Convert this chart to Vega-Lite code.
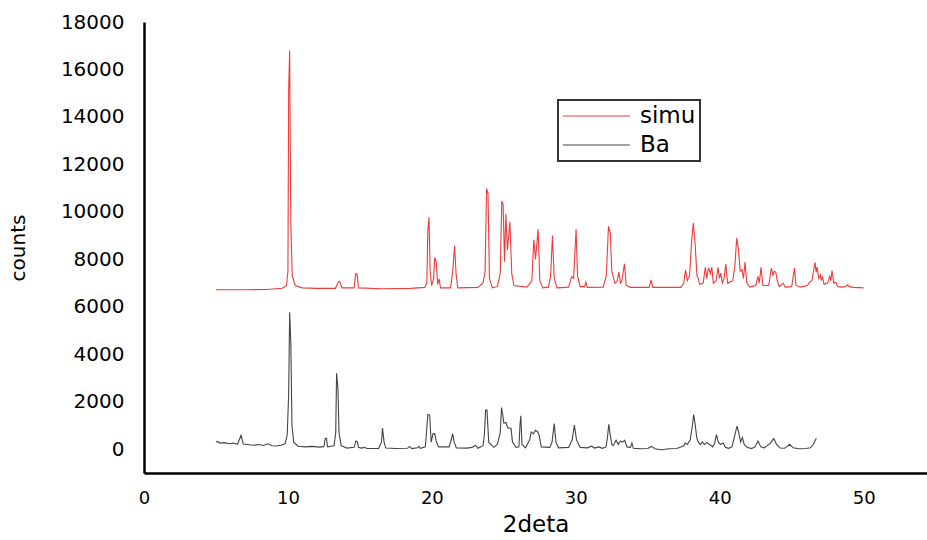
{
"$schema":"https://vega.github.io/schema/vega-lite/v6.json",
"width":783,"height":451,
"autosize":{"type":"none"},
"padding":{"left":144,"top":22,"right":0,"bottom":67},
"background":"white",
"config":{"view":{"stroke":null},"font":"DejaVu Sans"},
"data":{"values":[
{"s":"simu","x":5.0,"y":6720},{"s":"simu","x":7.0,"y":6720},{"s":"simu","x":8.5,"y":6730},{"s":"simu","x":9.6,"y":6780},{"s":"simu","x":9.9,"y":6900},{"s":"simu","x":10.0,"y":7500},{"s":"simu","x":10.05,"y":15100},{"s":"simu","x":10.12,"y":16800},{"s":"simu","x":10.2,"y":9500},{"s":"simu","x":10.3,"y":7300},{"s":"simu","x":10.5,"y":6900},{"s":"simu","x":11.0,"y":6800},{"s":"simu","x":12.0,"y":6780},{"s":"simu","x":13.3,"y":6780},{"s":"simu","x":13.5,"y":7050},{"s":"simu","x":13.6,"y":7070},{"s":"simu","x":13.75,"y":6800},{"s":"simu","x":14.6,"y":6800},{"s":"simu","x":14.7,"y":7390},{"s":"simu","x":14.8,"y":7380},{"s":"simu","x":14.9,"y":6800},{"s":"simu","x":16.5,"y":6760},{"s":"simu","x":18.5,"y":6780},{"s":"simu","x":19.5,"y":6820},{"s":"simu","x":19.65,"y":7000},{"s":"simu","x":19.72,"y":9180},{"s":"simu","x":19.8,"y":9770},{"s":"simu","x":19.88,"y":7500},{"s":"simu","x":19.98,"y":6900},{"s":"simu","x":20.12,"y":7200},{"s":"simu","x":20.2,"y":8080},{"s":"simu","x":20.3,"y":7900},{"s":"simu","x":20.4,"y":6950},{"s":"simu","x":20.5,"y":7180},{"s":"simu","x":20.6,"y":6800},{"s":"simu","x":21.3,"y":6800},{"s":"simu","x":21.45,"y":7500},{"s":"simu","x":21.58,"y":8580},{"s":"simu","x":21.68,"y":7400},{"s":"simu","x":21.8,"y":6800},{"s":"simu","x":23.2,"y":6820},{"s":"simu","x":23.55,"y":7000},{"s":"simu","x":23.7,"y":7500},{"s":"simu","x":23.8,"y":10985},{"s":"simu","x":23.9,"y":10770},{"s":"simu","x":24.0,"y":7200},{"s":"simu","x":24.2,"y":6800},{"s":"simu","x":24.55,"y":6850},{"s":"simu","x":24.75,"y":7400},{"s":"simu","x":24.86,"y":10465},{"s":"simu","x":24.95,"y":10310},{"s":"simu","x":25.05,"y":7900},{"s":"simu","x":25.14,"y":9915},{"s":"simu","x":25.25,"y":8400},{"s":"simu","x":25.42,"y":9580},{"s":"simu","x":25.55,"y":7400},{"s":"simu","x":25.7,"y":6900},{"s":"simu","x":26.6,"y":6830},{"s":"simu","x":26.95,"y":7100},{"s":"simu","x":27.08,"y":8830},{"s":"simu","x":27.2,"y":8000},{"s":"simu","x":27.38,"y":9280},{"s":"simu","x":27.5,"y":7100},{"s":"simu","x":27.7,"y":6800},{"s":"simu","x":28.1,"y":6830},{"s":"simu","x":28.25,"y":7300},{"s":"simu","x":28.38,"y":9000},{"s":"simu","x":28.5,"y":7200},{"s":"simu","x":28.7,"y":6800},{"s":"simu","x":29.5,"y":6830},{"s":"simu","x":29.72,"y":7280},{"s":"simu","x":29.85,"y":7200},{"s":"simu","x":30.02,"y":9280},{"s":"simu","x":30.12,"y":7300},{"s":"simu","x":30.3,"y":6850},{"s":"simu","x":30.6,"y":6850},{"s":"simu","x":30.7,"y":7040},{"s":"simu","x":30.8,"y":6820},{"s":"simu","x":31.9,"y":6830},{"s":"simu","x":32.12,"y":7300},{"s":"simu","x":32.27,"y":9395},{"s":"simu","x":32.4,"y":9085},{"s":"simu","x":32.5,"y":7500},{"s":"simu","x":32.6,"y":7280},{"s":"simu","x":32.7,"y":7000},{"s":"simu","x":32.85,"y":7050},{"s":"simu","x":33.0,"y":7465},{"s":"simu","x":33.1,"y":7000},{"s":"simu","x":33.2,"y":7100},{"s":"simu","x":33.38,"y":7815},{"s":"simu","x":33.5,"y":6900},{"s":"simu","x":33.8,"y":6820},{"s":"simu","x":35.1,"y":6820},{"s":"simu","x":35.23,"y":7140},{"s":"simu","x":35.35,"y":6820},{"s":"simu","x":37.3,"y":6820},{"s":"simu","x":37.5,"y":7000},{"s":"simu","x":37.62,"y":7560},{"s":"simu","x":37.75,"y":7100},{"s":"simu","x":37.9,"y":7300},{"s":"simu","x":38.05,"y":8790},{"s":"simu","x":38.17,"y":9535},{"s":"simu","x":38.3,"y":8550},{"s":"simu","x":38.42,"y":7300},{"s":"simu","x":38.5,"y":7230},{"s":"simu","x":38.6,"y":6950},{"s":"simu","x":38.85,"y":7000},{"s":"simu","x":39.0,"y":7670},{"s":"simu","x":39.1,"y":7200},{"s":"simu","x":39.22,"y":7650},{"s":"simu","x":39.35,"y":7400},{"s":"simu","x":39.45,"y":7670},{"s":"simu","x":39.55,"y":7000},{"s":"simu","x":39.75,"y":7100},{"s":"simu","x":39.88,"y":7670},{"s":"simu","x":39.98,"y":7200},{"s":"simu","x":40.07,"y":7420},{"s":"simu","x":40.18,"y":7000},{"s":"simu","x":40.3,"y":7200},{"s":"simu","x":40.42,"y":7800},{"s":"simu","x":40.55,"y":7000},{"s":"simu","x":40.9,"y":7100},{"s":"simu","x":41.05,"y":7700},{"s":"simu","x":41.18,"y":8900},{"s":"simu","x":41.3,"y":8410},{"s":"simu","x":41.42,"y":7500},{"s":"simu","x":41.55,"y":7560},{"s":"simu","x":41.65,"y":7200},{"s":"simu","x":41.76,"y":7890},{"s":"simu","x":41.88,"y":7000},{"s":"simu","x":42.1,"y":6830},{"s":"simu","x":42.5,"y":6900},{"s":"simu","x":42.66,"y":7280},{"s":"simu","x":42.75,"y":7000},{"s":"simu","x":42.87,"y":7670},{"s":"simu","x":43.0,"y":6900},{"s":"simu","x":43.4,"y":6900},{"s":"simu","x":43.59,"y":7635},{"s":"simu","x":43.7,"y":7300},{"s":"simu","x":43.78,"y":7500},{"s":"simu","x":43.89,"y":7465},{"s":"simu","x":44.0,"y":7100},{"s":"simu","x":44.15,"y":6850},{"s":"simu","x":44.4,"y":7000},{"s":"simu","x":44.55,"y":6830},{"s":"simu","x":45.0,"y":6850},{"s":"simu","x":45.19,"y":7635},{"s":"simu","x":45.3,"y":6900},{"s":"simu","x":45.6,"y":6830},{"s":"simu","x":46.1,"y":6900},{"s":"simu","x":46.25,"y":7050},{"s":"simu","x":46.4,"y":7100},{"s":"simu","x":46.62,"y":7870},{"s":"simu","x":46.7,"y":7450},{"s":"simu","x":46.76,"y":7670},{"s":"simu","x":46.88,"y":7200},{"s":"simu","x":46.99,"y":7350},{"s":"simu","x":47.06,"y":7100},{"s":"simu","x":47.13,"y":7280},{"s":"simu","x":47.25,"y":6950},{"s":"simu","x":47.5,"y":7000},{"s":"simu","x":47.64,"y":7280},{"s":"simu","x":47.72,"y":7100},{"s":"simu","x":47.8,"y":7530},{"s":"simu","x":47.92,"y":7000},{"s":"simu","x":48.06,"y":7050},{"s":"simu","x":48.2,"y":6850},{"s":"simu","x":48.5,"y":6830},{"s":"simu","x":48.75,"y":6860},{"s":"simu","x":48.9,"y":6930},{"s":"simu","x":49.0,"y":6850},{"s":"simu","x":49.3,"y":6820},{"s":"simu","x":50.0,"y":6800},
{"s":"Ba","x":5.0,"y":310},{"s":"Ba","x":5.1,"y":330},{"s":"Ba","x":5.3,"y":260},{"s":"Ba","x":5.6,"y":280},{"s":"Ba","x":5.9,"y":230},{"s":"Ba","x":6.2,"y":260},{"s":"Ba","x":6.5,"y":210},{"s":"Ba","x":6.74,"y":590},{"s":"Ba","x":6.9,"y":220},{"s":"Ba","x":7.3,"y":190},{"s":"Ba","x":7.6,"y":170},{"s":"Ba","x":8.0,"y":200},{"s":"Ba","x":8.3,"y":160},{"s":"Ba","x":8.6,"y":230},{"s":"Ba","x":8.9,"y":150},{"s":"Ba","x":9.2,"y":140},{"s":"Ba","x":9.5,"y":170},{"s":"Ba","x":9.8,"y":230},{"s":"Ba","x":9.95,"y":600},{"s":"Ba","x":10.05,"y":2310},{"s":"Ba","x":10.12,"y":5775},{"s":"Ba","x":10.2,"y":4510},{"s":"Ba","x":10.28,"y":1000},{"s":"Ba","x":10.4,"y":300},{"s":"Ba","x":10.7,"y":130},{"s":"Ba","x":11.2,"y":100},{"s":"Ba","x":11.7,"y":120},{"s":"Ba","x":12.2,"y":90},{"s":"Ba","x":12.5,"y":110},{"s":"Ba","x":12.59,"y":465},{"s":"Ba","x":12.68,"y":460},{"s":"Ba","x":12.75,"y":100},{"s":"Ba","x":13.2,"y":150},{"s":"Ba","x":13.32,"y":700},{"s":"Ba","x":13.38,"y":3200},{"s":"Ba","x":13.47,"y":2600},{"s":"Ba","x":13.55,"y":700},{"s":"Ba","x":13.7,"y":150},{"s":"Ba","x":14.1,"y":50},{"s":"Ba","x":14.6,"y":80},{"s":"Ba","x":14.72,"y":350},{"s":"Ba","x":14.82,"y":320},{"s":"Ba","x":14.9,"y":80},{"s":"Ba","x":15.1,"y":50},{"s":"Ba","x":15.3,"y":80},{"s":"Ba","x":15.5,"y":30},{"s":"Ba","x":16.3,"y":30},{"s":"Ba","x":16.5,"y":300},{"s":"Ba","x":16.57,"y":890},{"s":"Ba","x":16.68,"y":300},{"s":"Ba","x":16.8,"y":50},{"s":"Ba","x":17.5,"y":30},{"s":"Ba","x":18.3,"y":40},{"s":"Ba","x":18.45,"y":120},{"s":"Ba","x":18.6,"y":30},{"s":"Ba","x":19.0,"y":60},{"s":"Ba","x":19.1,"y":120},{"s":"Ba","x":19.2,"y":40},{"s":"Ba","x":19.55,"y":100},{"s":"Ba","x":19.72,"y":1465},{"s":"Ba","x":19.85,"y":1440},{"s":"Ba","x":19.95,"y":300},{"s":"Ba","x":20.08,"y":650},{"s":"Ba","x":20.2,"y":660},{"s":"Ba","x":20.3,"y":350},{"s":"Ba","x":20.45,"y":100},{"s":"Ba","x":21.2,"y":100},{"s":"Ba","x":21.35,"y":400},{"s":"Ba","x":21.44,"y":660},{"s":"Ba","x":21.55,"y":300},{"s":"Ba","x":21.7,"y":60},{"s":"Ba","x":22.4,"y":50},{"s":"Ba","x":22.8,"y":80},{"s":"Ba","x":23.03,"y":170},{"s":"Ba","x":23.2,"y":40},{"s":"Ba","x":23.55,"y":150},{"s":"Ba","x":23.65,"y":600},{"s":"Ba","x":23.73,"y":1650},{"s":"Ba","x":23.83,"y":1650},{"s":"Ba","x":23.95,"y":300},{"s":"Ba","x":24.3,"y":80},{"s":"Ba","x":24.55,"y":200},{"s":"Ba","x":24.75,"y":700},{"s":"Ba","x":24.84,"y":1760},{"s":"Ba","x":24.92,"y":1460},{"s":"Ba","x":25.0,"y":1100},{"s":"Ba","x":25.14,"y":1130},{"s":"Ba","x":25.28,"y":900},{"s":"Ba","x":25.42,"y":885},{"s":"Ba","x":25.5,"y":880},{"s":"Ba","x":25.6,"y":300},{"s":"Ba","x":25.85,"y":80},{"s":"Ba","x":26.05,"y":100},{"s":"Ba","x":26.12,"y":1000},{"s":"Ba","x":26.18,"y":1410},{"s":"Ba","x":26.26,"y":200},{"s":"Ba","x":26.5,"y":60},{"s":"Ba","x":26.8,"y":400},{"s":"Ba","x":26.9,"y":730},{"s":"Ba","x":27.05,"y":650},{"s":"Ba","x":27.2,"y":800},{"s":"Ba","x":27.35,"y":730},{"s":"Ba","x":27.45,"y":600},{"s":"Ba","x":27.6,"y":100},{"s":"Ba","x":28.2,"y":80},{"s":"Ba","x":28.35,"y":300},{"s":"Ba","x":28.5,"y":1085},{"s":"Ba","x":28.62,"y":300},{"s":"Ba","x":28.8,"y":60},{"s":"Ba","x":29.5,"y":80},{"s":"Ba","x":29.75,"y":400},{"s":"Ba","x":29.9,"y":1015},{"s":"Ba","x":30.05,"y":400},{"s":"Ba","x":30.3,"y":80},{"s":"Ba","x":30.8,"y":60},{"s":"Ba","x":31.1,"y":130},{"s":"Ba","x":31.3,"y":50},{"s":"Ba","x":31.6,"y":100},{"s":"Ba","x":31.85,"y":40},{"s":"Ba","x":32.1,"y":100},{"s":"Ba","x":32.2,"y":500},{"s":"Ba","x":32.29,"y":1055},{"s":"Ba","x":32.38,"y":660},{"s":"Ba","x":32.5,"y":200},{"s":"Ba","x":32.6,"y":150},{"s":"Ba","x":32.8,"y":380},{"s":"Ba","x":32.95,"y":200},{"s":"Ba","x":33.1,"y":350},{"s":"Ba","x":33.25,"y":300},{"s":"Ba","x":33.4,"y":380},{"s":"Ba","x":33.55,"y":100},{"s":"Ba","x":33.8,"y":80},{"s":"Ba","x":33.9,"y":265},{"s":"Ba","x":34.0,"y":40},{"s":"Ba","x":34.5,"y":20},{"s":"Ba","x":35.0,"y":30},{"s":"Ba","x":35.25,"y":120},{"s":"Ba","x":35.5,"y":20},{"s":"Ba","x":35.95,"y":-20},{"s":"Ba","x":36.5,"y":20},{"s":"Ba","x":37.0,"y":30},{"s":"Ba","x":37.3,"y":100},{"s":"Ba","x":37.5,"y":150},{"s":"Ba","x":37.6,"y":265},{"s":"Ba","x":37.75,"y":200},{"s":"Ba","x":37.95,"y":400},{"s":"Ba","x":38.1,"y":1000},{"s":"Ba","x":38.19,"y":1465},{"s":"Ba","x":38.3,"y":1015},{"s":"Ba","x":38.4,"y":500},{"s":"Ba","x":38.5,"y":310},{"s":"Ba","x":38.65,"y":200},{"s":"Ba","x":38.8,"y":310},{"s":"Ba","x":38.95,"y":200},{"s":"Ba","x":39.1,"y":290},{"s":"Ba","x":39.3,"y":200},{"s":"Ba","x":39.5,"y":100},{"s":"Ba","x":39.65,"y":250},{"s":"Ba","x":39.77,"y":620},{"s":"Ba","x":39.9,"y":300},{"s":"Ba","x":40.05,"y":200},{"s":"Ba","x":40.23,"y":265},{"s":"Ba","x":40.4,"y":80},{"s":"Ba","x":40.6,"y":40},{"s":"Ba","x":40.85,"y":100},{"s":"Ba","x":41.05,"y":600},{"s":"Ba","x":41.2,"y":970},{"s":"Ba","x":41.32,"y":700},{"s":"Ba","x":41.45,"y":300},{"s":"Ba","x":41.57,"y":490},{"s":"Ba","x":41.7,"y":200},{"s":"Ba","x":41.9,"y":80},{"s":"Ba","x":42.2,"y":30},{"s":"Ba","x":42.45,"y":100},{"s":"Ba","x":42.66,"y":350},{"s":"Ba","x":42.85,"y":100},{"s":"Ba","x":43.1,"y":60},{"s":"Ba","x":43.5,"y":250},{"s":"Ba","x":43.75,"y":450},{"s":"Ba","x":43.95,"y":200},{"s":"Ba","x":44.2,"y":50},{"s":"Ba","x":44.5,"y":40},{"s":"Ba","x":44.86,"y":210},{"s":"Ba","x":45.1,"y":60},{"s":"Ba","x":45.5,"y":20},{"s":"Ba","x":46.0,"y":30},{"s":"Ba","x":46.3,"y":60},{"s":"Ba","x":46.5,"y":200},{"s":"Ba","x":46.71,"y":465}
]},
"mark":{"type":"line","strokeWidth":1.1,"interpolate":"linear"},
"encoding":{
  "x":{"field":"x","type":"quantitative","sort":null,"scale":{"domain":[0,54.4],"nice":false,"zero":false},
    "axis":{"title":"2deta","values":[0,10,20,30,40,50],"labelFlush":false,"ticks":false,"grid":false,"domainColor":"#000","domainWidth":2.5,"labelFontSize":18,"labelColor":"#000","labelPadding":16,"titleFontSize":23,"titleFontWeight":"normal","titleColor":"#000","titlePadding":6}},
  "y":{"field":"y","type":"quantitative","scale":{"domain":[-1000,18000],"nice":false,"zero":false},
    "axis":{"title":"counts","format":"d","values":[0,2000,4000,6000,8000,10000,12000,14000,16000,18000],"labelFlush":false,"ticks":false,"grid":false,"domainColor":"#000","domainWidth":2.5,"labelFontSize":20,"labelColor":"#000","labelPadding":20,"titleFontSize":20,"titleFontWeight":"normal","titleColor":"#000","titlePadding":32}},
  "color":{"field":"s","type":"nominal","scale":{"domain":["simu","Ba"],"range":["#ee3b3b","#444444"]},
    "legend":{"title":null,"orient":"none","legendX":414,"legendY":78,"symbolType":"M-1,0H5","symbolSize":499,"symbolStrokeWidth":1,"rowPadding":5,"labelFontSize":23,"labelColor":"#000","labelOffset":54,"strokeColor":"#333","padding":4,"fillColor":"white",
      "encode":{"legend":{"update":{"strokeWidth":{"value":2}}}}}}
}
}
